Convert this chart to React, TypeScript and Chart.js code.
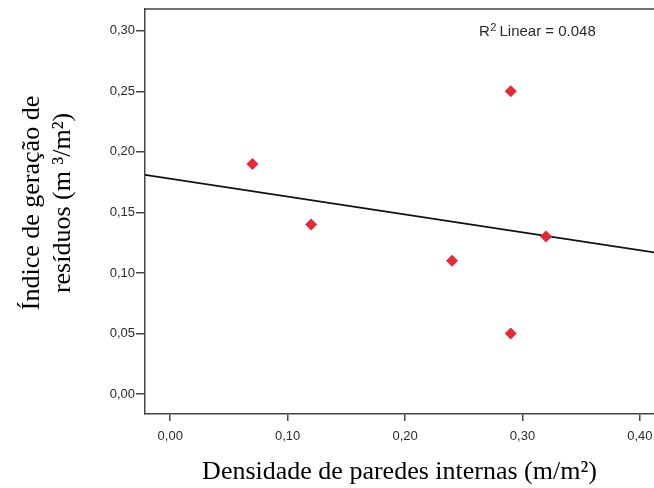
import React, { useEffect, useRef } from "react";
import { Chart, registerables } from "chart.js";

Chart.register(...registerables);

// ---- data ----
const densidade = [0.07, 0.12, 0.24, 0.29, 0.29, 0.32];
const indice = [0.19, 0.14, 0.11, 0.25, 0.05, 0.13];
// fitted line (R² Linear) end points, read at the plot edges
const fitX = [-0.0215, 0.412];
const fitY = [0.181, 0.117];
const xTicks = [0, 0.1, 0.2, 0.3, 0.4];
const yTicks = [0, 0.05, 0.1, 0.15, 0.2, 0.25, 0.3];
const xRange = [-0.0215, 0.412];
const yRange = [-0.0165, 0.318];
const xTitle = "Densidade de paredes internas (m/m²)";
const yTitle = ["Índice de geração de", "resíduos (m ³/m²)"];
const r2Value = "0.048";

const fmt = (v: number) => v.toFixed(2).replace(".", ",");

const AXIS = "#444";
const TICKTXT = "#2a2a2a";

const extrasPlugin = {
  id: "extras",
  afterDraw(chart: any) {
    const { ctx, chartArea } = chart;
    ctx.save();
    // top frame line
    ctx.strokeStyle = AXIS;
    ctx.lineWidth = 1.5;
    ctx.beginPath();
    ctx.moveTo(chartArea.left, chartArea.top);
    ctx.lineTo(chartArea.right, chartArea.top);
    ctx.stroke();

    // R² label
    ctx.fillStyle = TICKTXT;
    ctx.textBaseline = "alphabetic";
    ctx.textAlign = "left";
    let x = 479;
    const base = 36;
    ctx.font = "15px 'Liberation Sans', Arial, sans-serif";
    ctx.fillText("R", x, base);
    x += ctx.measureText("R").width + 0.5;
    ctx.font = "11px 'Liberation Sans', Arial, sans-serif";
    ctx.fillText("2", x, base - 5);
    x += ctx.measureText("2").width + 3;
    ctx.font = "15px 'Liberation Sans', Arial, sans-serif";
    ctx.fillText("Linear = " + r2Value, x, base);

    // Y axis title (two lines, rotated)
    ctx.fillStyle = "#000";
    ctx.font = "26px 'Liberation Serif', 'Times New Roman', serif";
    ctx.textAlign = "center";
    const cy = 203;
    const baselines = [39, 70];
    yTitle.forEach((line, i) => {
      ctx.save();
      ctx.translate(baselines[i], cy);
      ctx.rotate(-Math.PI / 2);
      ctx.fillText(line, 0, 0);
      ctx.restore();
    });
    ctx.restore();
  },
};

export default function App() {
  const ref = useRef<HTMLCanvasElement | null>(null);

  useEffect(() => {
    if (!ref.current) return;
    const chart = new Chart(ref.current, {
      type: "scatter",
      data: {
        datasets: [
          {
            type: "line",
            data: fitX.map((x, i) => ({ x, y: fitY[i] })),
            borderColor: "#111",
            borderWidth: 1.6,
            pointRadius: 0,
            fill: false,
            order: 2,
          } as any,
          {
            type: "scatter",
            data: densidade.map((x, i) => ({ x, y: indice[i] })),
            pointStyle: "rectRot",
            pointRadius: 6,
            backgroundColor: "rgb(232,40,52)",
            borderColor: "rgb(232,40,52)",
            borderWidth: 0,
            order: 1,
          },
        ],
      },
      options: {
        responsive: false,
        animation: false,
        layout: { autoPadding: false, padding: { top: 9, left: 0, right: 0, bottom: 0 } },
        plugins: {
          legend: { display: false },
          tooltip: { enabled: false },
        },
        scales: {
          x: {
            type: "linear",
            min: xRange[0],
            max: xRange[1],
            afterBuildTicks: (s: any) => {
              s.ticks = xTicks.map((v) => ({ value: v }));
            },
            afterFit: (s: any) => {
              s.height = 74;
              s.paddingLeft = 0;
              s.paddingRight = 0;
            },
            ticks: {
              callback: (v: any) => fmt(Number(v)),
              font: { family: "'Liberation Sans', Arial, sans-serif", size: 13 },
              color: TICKTXT,
              padding: 8,
              maxRotation: 0,
              autoSkip: false,
            },
            grid: {
              display: true,
              drawOnChartArea: false,
              drawTicks: true,
              tickLength: 7,
              color: AXIS,
              lineWidth: 1.5,
            },
            border: { display: true, color: AXIS, width: 1.5 },
            title: {
              display: true,
              text: xTitle,
              color: "#000",
              font: { family: "'Liberation Serif', 'Times New Roman', serif", size: 26 },
              padding: { top: 0, bottom: 0 },
            },
          },
          y: {
            type: "linear",
            min: yRange[0],
            max: yRange[1],
            afterBuildTicks: (s: any) => {
              s.ticks = yTicks.map((v) => ({ value: v }));
            },
            afterFit: (s: any) => {
              s.width = 145;
              s.paddingTop = 0;
              s.paddingBottom = 0;
            },
            ticks: {
              callback: (v: any) => fmt(Number(v)),
              font: { family: "'Liberation Sans', Arial, sans-serif", size: 13 },
              color: TICKTXT,
              padding: 1,
              autoSkip: false,
            },
            grid: {
              display: true,
              drawOnChartArea: false,
              drawTicks: true,
              tickLength: 9,
              color: AXIS,
              lineWidth: 1.5,
            },
            border: { display: true, color: AXIS, width: 1.5 },
            title: { display: false },
          },
        },
      },
      plugins: [extrasPlugin],
    });
    return () => chart.destroy();
  }, []);

  return (
    <div style={{ position: "absolute", left: 0, top: 0, width: 654, height: 488, background: "#fff" }}>
      <canvas ref={ref} width={654} height={488} style={{ display: "block" }} />
    </div>
  );
}
